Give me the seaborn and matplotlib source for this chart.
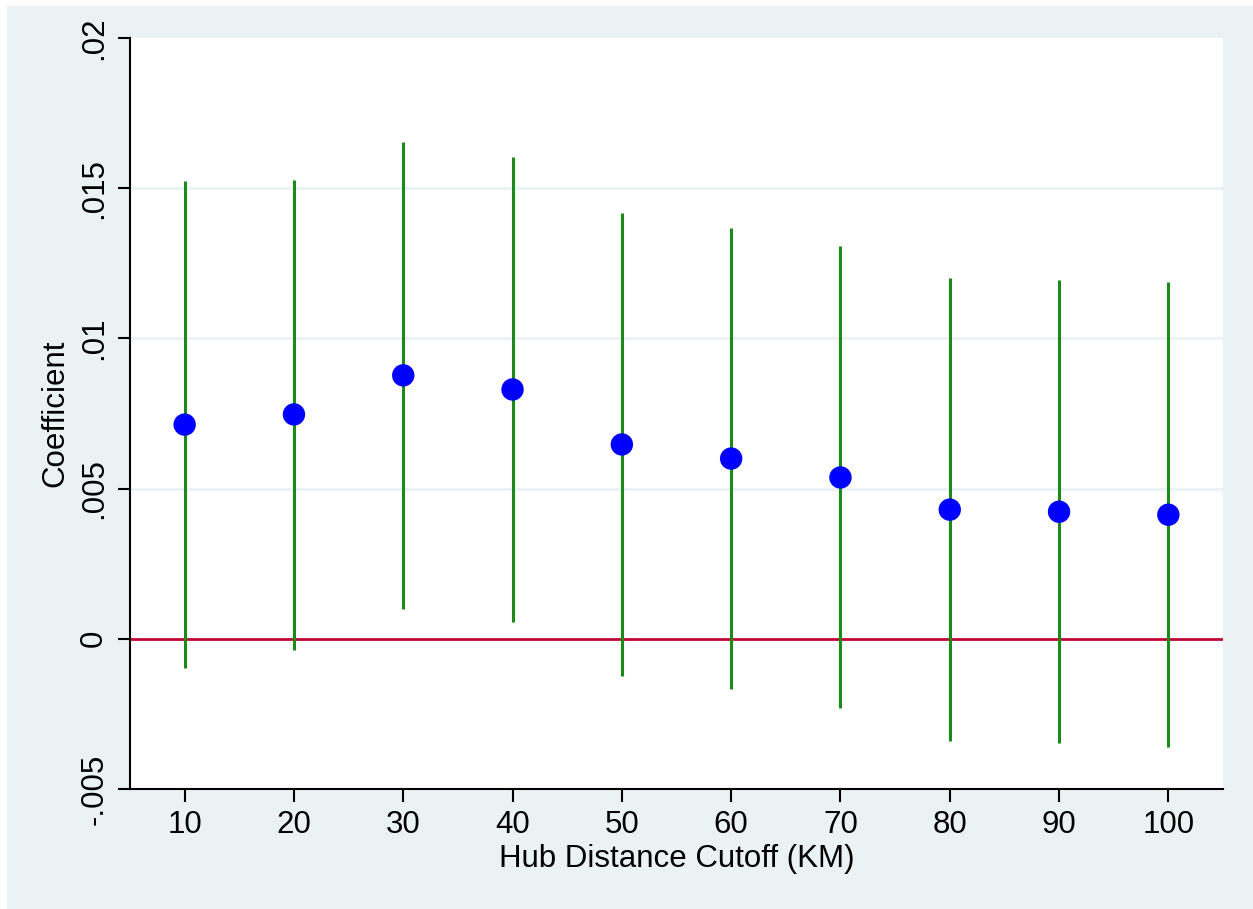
import matplotlib
matplotlib.use("Agg")
import matplotlib.pyplot as plt
import seaborn as sns
import pandas as pd
from matplotlib.patches import Rectangle

# hub distance cutoffs (km) and estimates
cutoff = [10, 20, 30, 40, 50, 60, 70, 80, 90, 100]
coef = [0.00713, 0.00747, 0.00877, 0.0083, 0.00647, 0.0060, 0.00537, 0.0043, 0.00423, 0.00413]
ci_hi = [0.01523, 0.01527, 0.01653, 0.01603, 0.01417, 0.01367, 0.01307, 0.0120, 0.01193, 0.01187]
ci_lo = [-0.00097, -0.00037, 0.0010, 0.00057, -0.00123, -0.00167, -0.0023, -0.0034, -0.00347, -0.0036]
yticks = [-0.005, 0, 0.005, 0.01, 0.015, 0.02]
ytick_labels = ["-.005", "0", ".005", ".01", ".015", ".02"]

df = pd.DataFrame({"cutoff": cutoff, "coef": coef, "lo": ci_lo, "hi": ci_hi})

sns.set_style("white")
plt.rcParams["font.family"] = ["Liberation Sans", "DejaVu Sans"]
plt.rcParams["text.color"] = "black"
plt.rcParams["axes.labelcolor"] = "black"
plt.rcParams["xtick.color"] = "black"
plt.rcParams["ytick.color"] = "black"

bg = "#eaf2f3"
fig = plt.figure(figsize=(12.53, 9.09), dpi=100, facecolor="white")
fig.patches.append(Rectangle((7 / 1253, -0.05), 1.1, 1.05 - 6 / 909, transform=fig.transFigure,
                             facecolor=bg, edgecolor="none", zorder=-10))
ax = fig.add_axes([130 / 1253, 1 - 789 / 909, (1223 - 130) / 1253, (789 - 38) / 909])
ax.set_zorder(5)
ax.set_facecolor("white")

for y in [0.005, 0.01, 0.015]:
    ax.axhline(y, color=bg, lw=2, zorder=0)
ax.axhline(0, color="#c10534", lw=2, zorder=1)

ax.vlines(df["cutoff"], df["lo"], df["hi"], color="#1a8a1a", lw=2.2, zorder=2)
sns.scatterplot(data=df, x="cutoff", y="coef", ax=ax, color="#0000ff", s=260,
                edgecolor="none", zorder=3)

ax.set_xlim(5, 105)
ax.set_ylim(-0.005, 0.02)
ax.set_xticks(cutoff)
ax.set_xticklabels([str(c) for c in cutoff])
ax.set_yticks(yticks)
ax.set_yticklabels(ytick_labels, rotation=90, va="center")
ax.tick_params(axis="both", direction="out", length=9, width=1.5, labelsize=22.5,
               color="black", labelcolor="black", pad=6, left=True, bottom=True)
ax.set_xlabel("Hub Distance Cutoff (KM)", fontsize=22.5, labelpad=3)
ax.set_ylabel("Coefficient", fontsize=22.5, labelpad=6)

for s in ["top", "right"]:
    ax.spines[s].set_visible(False)
for s in ["left", "bottom"]:
    ax.spines[s].set_color("black")
    ax.spines[s].set_linewidth(1.5)

fig.savefig("out.png", dpi=100, facecolor=fig.get_facecolor())
